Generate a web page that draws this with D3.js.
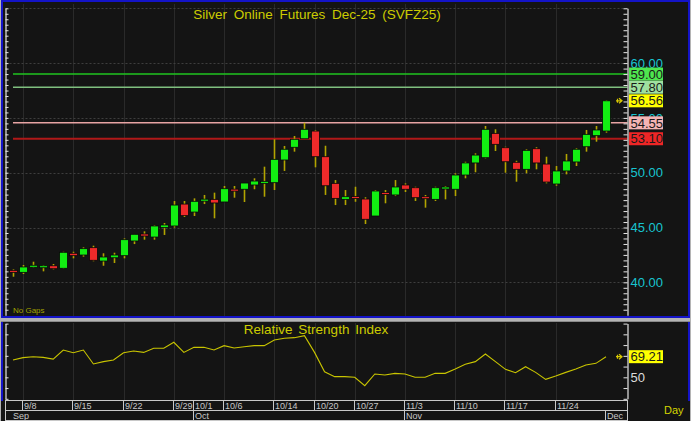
<!DOCTYPE html>
<html><head><meta charset="utf-8">
<script src="https://cdn.jsdelivr.net/npm/d3@7"></script>
<style>
html,body{margin:0;padding:0;background:#b4b4b4;overflow:hidden}
svg{display:block;font-family:Arial,"Liberation Sans",sans-serif}
</style>
</head><body>
<svg id="c" width="691" height="421"></svg>
<script>
// ---------- data ----------
const openV  = [41.09,40.91,41.42,41.33,41.51,41.28,42.65,42.49,43.16,41.94,42.24,42.43,43.77,44.41,44.13,44.99,45.14,47.14,46.41,47.42,
                47.57,47.33,48.49,48.49,48.88,49.06,49.09,51.16,52.32,53.10,53.80,51.46,49.03,47.57,47.81,47.60,46.05,48.15,47.97,48.88,
                48.63,47.81,47.57,48.54,48.49,49.79,50.89,51.37,53.59,52.28,50.95,50.31,52.19,50.79,48.97,50.16,50.98,52.37,53.38,53.80];
const highV  = [41.18,41.58,41.88,41.58,41.67,42.79,42.79,43.19,43.34,42.65,42.70,44.01,44.38,44.65,45.20,45.41,47.42,47.42,47.66,47.97,
                48.18,48.79,48.79,49.06,49.49,50.55,53.05,52.44,53.35,54.56,53.90,52.46,49.33,48.42,48.72,47.76,48.42,48.42,49.33,49.03,
                48.72,47.97,48.72,48.79,49.95,51.00,51.77,54.26,53.96,52.37,51.09,52.13,52.32,51.46,50.61,51.71,52.23,53.90,54.26,56.62];
const lowV   = [40.51,40.76,41.33,41.00,41.18,41.24,42.19,42.34,41.92,41.51,41.76,42.19,43.49,43.89,43.89,44.32,44.99,45.96,46.05,47.14,
                45.84,47.33,47.72,47.33,48.49,47.81,48.42,50.16,51.92,53.10,50.49,47.97,47.05,47.05,47.35,45.32,46.05,47.21,47.87,48.24,
                47.42,46.81,47.42,47.57,47.87,49.49,50.04,51.31,51.98,50.00,49.18,49.95,50.31,49.03,48.81,49.85,50.61,51.92,52.83,53.65];
const closeV = [40.91,41.40,41.51,41.51,41.24,42.74,42.43,43.07,42.01,42.31,42.49,43.89,44.38,44.22,45.14,45.23,47.05,46.08,47.39,47.57,
                47.24,48.54,48.33,49.06,49.24,49.18,51.22,52.14,53.05,53.96,51.46,48.81,47.66,47.81,47.66,45.75,48.33,48.06,48.70,48.49,
                47.72,47.63,48.63,48.67,49.79,50.89,51.61,53.96,52.59,51.00,50.31,52.04,50.89,49.15,50.16,51.07,52.14,53.50,53.90,56.56];
const rsiV   = [66.1,68.3,69.2,68.6,67.0,75.4,72.9,75.4,62.4,64.6,66.1,72.9,74.5,73.2,77.0,77.0,82.6,73.2,77.9,77.9,
                75.4,79.5,77.3,78.5,79.5,79.5,84.7,86.3,86.9,88.8,73.2,55.2,50.6,50.6,50.0,42.2,53.1,52.1,53.7,53.1,
                50.0,50.0,53.7,53.7,57.7,62.1,64.6,71.7,64.6,57.4,54.3,59.9,54.6,48.1,51.2,54.6,57.7,61.5,63.0,69.21];
const weekTickIdx    = [1,6,11,16,18,21,26,30,34,39,44,49,54];
const weekTickLabels = ["9/8","9/15","9/22","9/29","10/1","10/6","10/14","10/20","10/27","11/3","11/10","11/17","11/24"];
const monthIdx    = [0,18,39,59];
const monthLabels = ["Sep","Oct","Nov","Dec"];
const priceTicks  = [40,45,50,55,60];
const priceGrid   = [40,45,50,55,60,65];
const levelValues = [59.00,57.80,54.55,53.10];
const rsiTicks    = [50];
const lastPrice = 56.56, lastRsi = 69.21;
const titleText = "Silver Online Futures Dec-25 (SVFZ25)";

// ---------- styles ----------
const levelLine = ["#1fc41f","#7fbf7f","#e8a4a4","#b01818"];
const levelLineW = [1.5,1.5,1.5,2.2];
const levelBox  = ["#4ee64e","#9fe09f","#ffff00","#f4b4b4","#ee2626"];
const UP="#12ee12", DN="#ee2a2a", WICK="#b2a400";

// ---------- scales ----------
const n = closeV.length;
const x = d3.scaleLinear().domain([0,n-1]).range([13,606]);
const y = d3.scaleLinear().domain([37,65]).range([315.2,8.3]);
const r = d3.scaleLinear().domain([30,100]).range([398.8,323.6]);
const L = 5.5, R = 627.5;

const svg = d3.select("#c");

// backgrounds
svg.append("rect").attr("x",2).attr("y",1).attr("width",687).attr("height",316)
  .attr("fill","#141414").attr("stroke","#1414c8").attr("stroke-width",2);
svg.append("rect").attr("x",1).attr("y",321).attr("width",689).attr("height",100).attr("fill","#141414");
svg.append("rect").attr("x",1).attr("y",321).attr("width",2).attr("height",80).attr("fill","#1414c8");
svg.append("rect").attr("x",688).attr("y",321).attr("width",2).attr("height",80).attr("fill","#1414c8");
svg.append("line").attr("x1",1).attr("x2",690).attr("y1",321.5).attr("y2",321.5).attr("stroke","#8a8a8a");

// grid
const g = svg.append("g");
const vGrid = weekTickIdx.filter((d,i)=>weekTickLabels[i]!=="10/1");
g.selectAll(".vg").data(vGrid).join("line")
  .attr("x1",d=>Math.round(x(d))+0.5).attr("x2",d=>Math.round(x(d))+0.5)
  .attr("y1",4).attr("y2",316).attr("stroke","#2a2a2a");
g.selectAll(".vg2").data(vGrid).join("line")
  .attr("x1",d=>Math.round(x(d))+0.5).attr("x2",d=>Math.round(x(d))+0.5)
  .attr("y1",323).attr("y2",400).attr("stroke","#2a2a2a");
g.selectAll(".hg").data(priceGrid).join("line")
  .attr("x1",L).attr("x2",R).attr("y1",d=>Math.round(y(d))+0.5).attr("y2",d=>Math.round(y(d))+0.5)
  .attr("stroke","#3e3e3e").attr("stroke-dasharray","2,2");

// level lines
svg.selectAll(".lvl").data(levelValues).join("line")
  .attr("x1",x(0)).attr("x2",R).attr("y1",d=>y(d)).attr("y2",d=>y(d))
  .attr("stroke",(d,i)=>levelLine[i]).attr("stroke-width",(d,i)=>levelLineW[i]);

// candles
const cg = svg.append("g");
const idx = d3.range(n);
cg.selectAll(".w").data(idx).join("line")
  .attr("x1",i=>Math.round(x(i))+0.5).attr("x2",i=>Math.round(x(i))+0.5)
  .attr("y1",i=>y(highV[i])).attr("y2",i=>y(lowV[i]))
  .attr("stroke",WICK).attr("stroke-width",1.6);
cg.selectAll(".b").data(idx).join("rect")
  .attr("x",i=>Math.round(x(i))-3.5).attr("width",8)
  .attr("y",i=>{const t=y(Math.max(openV[i],closeV[i])),b=y(Math.min(openV[i],closeV[i]));return b-t<2?(t+b)/2-1:t;})
  .attr("height",i=>Math.max(2,Math.abs(y(openV[i])-y(closeV[i]))))
  .attr("fill",i=>closeV[i]>=openV[i]?UP:DN)
  .attr("stroke","#080808").attr("stroke-width",0.8);

// RSI line
svg.append("path").datum(idx)
  .attr("d",d3.line().x(i=>x(i)).y(i=>r(rsiV[i])))
  .attr("fill","none").attr("stroke","#c8c400").attr("stroke-width",1.1);

// axes
function styleAxis(sel){sel.selectAll("path,line").attr("stroke","#e6e6e6");sel.select(".domain").attr("stroke-width",1.2);}
svg.append("g").attr("transform",`translate(${R},0)`)
  .call(d3.axisLeft(y).tickValues(d3.range(37.5,65.01,0.5)).tickSize(4).tickSizeOuter(0).tickFormat(""))
  .call(styleAxis);
svg.append("g").attr("transform",`translate(${L},0)`)
  .call(d3.axisRight(y).tickValues(d3.range(37.5,65.01,0.5)).tickSize(3).tickSizeOuter(0).tickFormat(""))
  .call(styleAxis);
svg.append("g").attr("transform",`translate(${R},0)`)
  .call(d3.axisLeft(r).tickValues(d3.range(30,101,10)).tickSize(4).tickSizeOuter(0).tickFormat(""))
  .call(styleAxis);
svg.append("g").attr("transform",`translate(${L},0)`)
  .call(d3.axisRight(r).tickValues(d3.range(30,101,10)).tickSize(3).tickSizeOuter(0).tickFormat(""))
  .call(styleAxis);

// price labels
const pl = svg.append("g").attr("transform",`translate(${R},0)`)
  .call(d3.axisRight(y).tickValues(priceTicks).tickSize(0).tickPadding(3).tickFormat(d3.format(".2f")));
pl.select(".domain").remove();
pl.selectAll("text").attr("fill","#18c4d0").attr("font-size",13).attr("font-family","Arial, Liberation Sans, sans-serif");
const rl = svg.append("g").attr("transform",`translate(${R},0)`)
  .call(d3.axisRight(r).tickValues(rsiTicks).tickSize(0).tickPadding(3));
rl.select(".domain").remove();
rl.selectAll("text").attr("fill","#dcdcdc").attr("font-size",13).attr("font-family","Arial, Liberation Sans, sans-serif");

// level label boxes
const boxes = [...levelValues.slice(0,2).map(v=>({v,sc:y})),{v:lastPrice,sc:y},...levelValues.slice(2).map(v=>({v,sc:y})),{v:lastRsi,sc:r}];
const boxCol = [levelBox[0],levelBox[1],levelBox[2],levelBox[3],levelBox[4],"#ffff00"];
const bg = svg.selectAll(".box").data(boxes).join("g");
bg.append("rect").attr("x",629).attr("width",34).attr("y",d=>d.sc(d.v)-6.5).attr("height",13)
  .attr("fill",(d,i)=>boxCol[i]);
bg.append("text").attr("x",630.5).attr("y",d=>d.sc(d.v)).attr("dy","0.36em")
  .attr("font-size",13).attr("fill","#1a1a1a").text(d=>d.v.toFixed(2));

// small arrow markers
[[y(lastPrice)],[r(lastRsi)]].forEach(([yy])=>{
  svg.append("path").attr("d",`M616,${yy} h6 M619,${yy-2.5} l3,2.5 l-3,2.5 M617.5,${yy-2} v4`)
    .attr("stroke","#d8c800").attr("stroke-width",1.2).attr("fill","none");
});

// titles
svg.append("text").attr("x",317).attr("y",19).attr("text-anchor","middle")
  .attr("font-size",13.5).attr("word-spacing",3).attr("fill","#cccc00").text(titleText);
svg.append("text").attr("x",316).attr("y",334).attr("text-anchor","middle")
  .attr("font-size",13.5).attr("word-spacing",2).attr("fill","#cccc00").text("Relative Strength Index");
svg.append("text").attr("x",13).attr("y",313).attr("font-size",8).attr("fill","#a3a300").text("No Gaps");
svg.append("text").attr("x",664).attr("y",414).attr("font-size",11).attr("fill","#d4d400").text("Day");

// date bar
const db = svg.append("g").attr("stroke","#c8c8c8").attr("stroke-width",1);
db.append("line").attr("x1",L).attr("x2",R).attr("y1",400.5).attr("y2",400.5);
db.append("line").attr("x1",L).attr("x2",R).attr("y1",410.5).attr("y2",410.5);
db.append("line").attr("x1",L).attr("x2",R).attr("y1",420.5).attr("y2",420.5);
db.append("line").attr("x1",L).attr("x2",L).attr("y1",400).attr("y2",421);
db.append("line").attr("x1",R).attr("x2",R).attr("y1",400).attr("y2",421);
db.selectAll(".ws").data(weekTickIdx).join("line")
  .attr("x1",d=>Math.round(x(d))-0.5).attr("x2",d=>Math.round(x(d))-0.5).attr("y1",400).attr("y2",410);
db.selectAll(".ms").data(monthIdx.slice(1)).join("line")
  .attr("x1",d=>Math.round(x(d))-0.5).attr("x2",d=>Math.round(x(d))-0.5).attr("y1",410).attr("y2",421);
svg.selectAll(".wt").data(weekTickIdx).join("text")
  .attr("x",d=>Math.round(x(d))+1).attr("y",409).attr("font-size",9).attr("fill","#c8c8c8")
  .text((d,i)=>weekTickLabels[i]);
svg.selectAll(".mt").data(monthIdx).join("text")
  .attr("x",(d,i)=>i===0?13:Math.round(x(d))+1).attr("y",419).attr("font-size",9).attr("fill","#c8c8c8")
  .text((d,i)=>monthLabels[i]);
</script>
</body></html>
